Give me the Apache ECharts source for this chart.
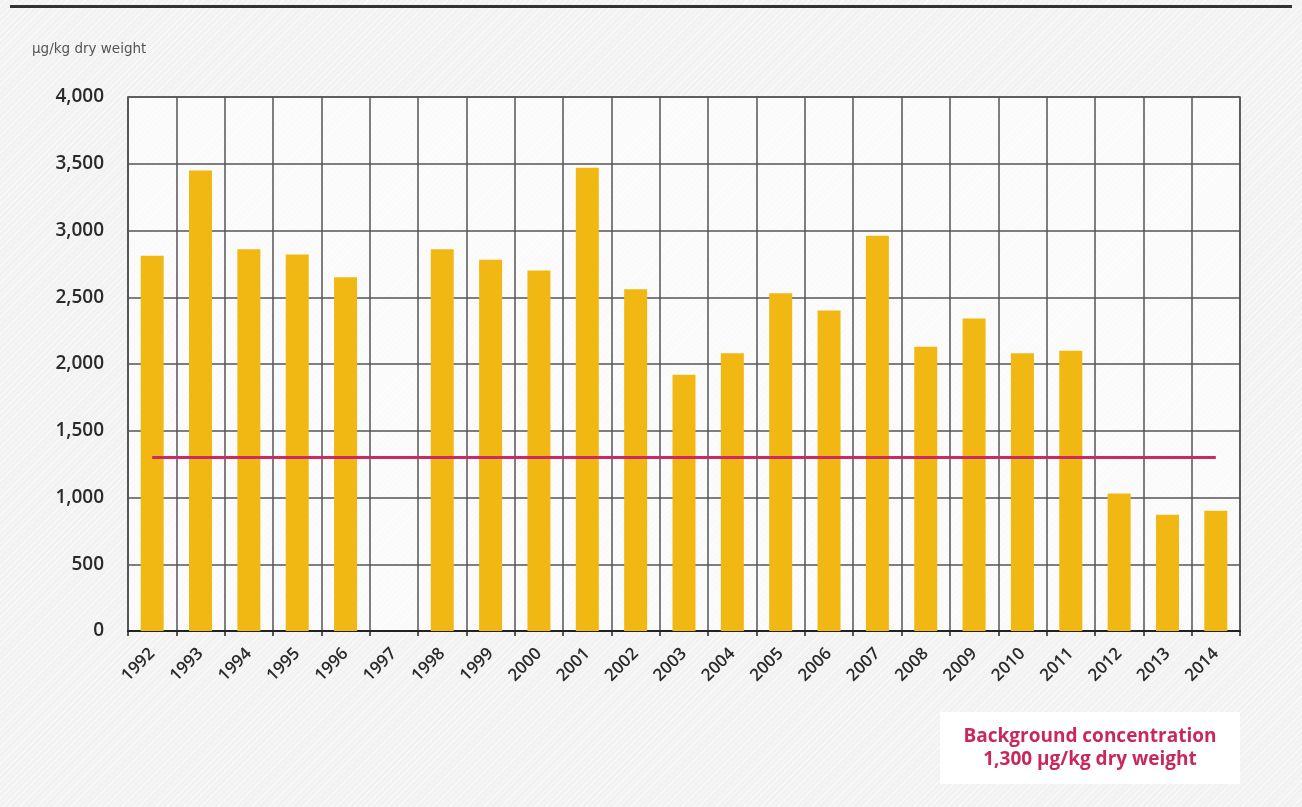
<!DOCTYPE html>
<html>
<head>
<meta charset="utf-8">
<script src="https://cdn.jsdelivr.net/npm/echarts@6/dist/echarts.min.js"></script>
<style>
  html, body { margin: 0; padding: 0; }
  body {
    width: 1302px; height: 807px; overflow: hidden;
    background-color: #f2f2f2;
    background-image: repeating-linear-gradient(135deg, rgba(255,255,255,0.55) 0px, rgba(255,255,255,0.55) 1px, rgba(0,0,0,0) 1px, rgba(0,0,0,0) 4px);
  }
  #chart { width: 1302px; height: 807px; }
</style>
</head>
<body>
<div id="chart"></div>
<script>
// Years measured (1997 has no sample)
const years = ['1992','1993','1994','1995','1996','1997','1998','1999','2000','2001','2002','2003',
               '2004','2005','2006','2007','2008','2009','2010','2011','2012','2013','2014'];
// Concentration, µg/kg dry weight
const concentration = [2810, 3450, 2860, 2820, 2650, null, 2860, 2780, 2700, 3470, 2560, 1920,
                       2080, 2530, 2400, 2960, 2130, 2340, 2080, 2100, 1030, 870, 900];
// Background concentration threshold
const backgroundLevel = 1300;
const yTicks = { min: 0, max: 4000, interval: 500 };

const fontFamily = '"Open Sans", "Noto Sans", sans-serif';
const chart = echarts.init(document.getElementById('chart'), null, { renderer: 'canvas' });

chart.setOption({
  backgroundColor: 'transparent',
  animation: false,
  textStyle: { fontFamily: fontFamily },
  grid: {
    left: 128, right: 62, top: 97, bottom: 176,
    show: true,
    backgroundColor: 'rgba(255,255,255,0.6)',
    borderColor: '#555',
    borderWidth: 1.5
  },
  graphic: [
    { type: 'rect', shape: { x: 10, y: 5, width: 1282, height: 3 }, style: { fill: '#333' } },
    { type: 'text', x: 32, y: 49,
      style: { text: 'µg/kg dry weight', fill: '#555', font: '13.5px "DejaVu Sans", sans-serif',
               verticalAlign: 'middle' } },
    { type: 'rect', shape: { x: 940, y: 712, width: 300, height: 72 }, style: { fill: '#ffffff' } },
    { type: 'text', x: 1090, y: 737,
      style: { text: 'Background concentration', fill: '#c8285f', font: 'bold 19px ' + fontFamily,
               align: 'center', verticalAlign: 'middle' } },
    { type: 'text', x: 1090, y: 760,
      style: { text: '1,300 µg/kg dry weight', fill: '#c8285f', font: 'bold 19px ' + fontFamily,
               align: 'center', verticalAlign: 'middle' } }
  ],
  xAxis: {
    type: 'category',
    data: years,
    axisLine: { show: true, lineStyle: { color: '#222', width: 2 } },
    axisTick: { show: true, length: 5, interval: 0, lineStyle: { color: '#222', width: 1.5 } },
    splitLine: { show: true, interval: 0, lineStyle: { color: '#555', width: 1.5 } },
    axisLabel: {
      interval: 0, rotate: 45, color: '#2a2a2a', fontSize: 17, fontWeight: 600, margin: 20
    }
  },
  yAxis: {
    type: 'value',
    min: yTicks.min, max: yTicks.max, interval: yTicks.interval,
    axisLine: { show: true, lineStyle: { color: '#555', width: 1.5 } },
    axisTick: { show: false },
    splitLine: { show: true, lineStyle: { color: '#555', width: 1.5 } },
    axisLabel: {
      color: '#2a2a2a', fontSize: 19, fontWeight: 600, margin: 24,
      formatter: v => v.toLocaleString('en-US')
    }
  },
  series: [
    {
      type: 'bar',
      data: concentration,
      barWidth: 23,
      itemStyle: { color: '#f1b814' },
      z: 2
    },
    {
      type: 'line',
      data: years.map(() => backgroundLevel),
      symbol: 'none',
      lineStyle: { color: '#cc2a64', width: 3 },
      z: 3
    }
  ]
});
</script>
</body>
</html>
